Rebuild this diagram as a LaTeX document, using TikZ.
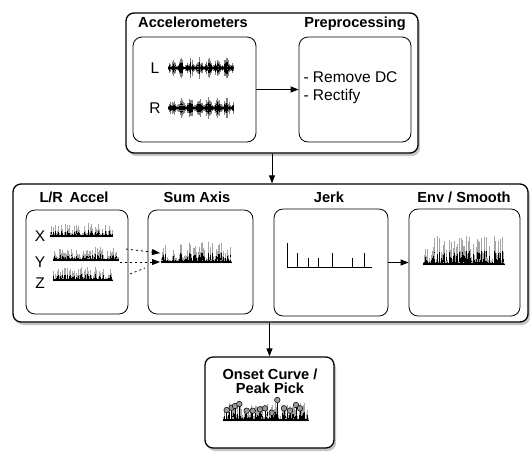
\documentclass[tikz,border=0pt]{standalone}
\usepackage{fontspec}
\setmainfont{Liberation Sans}
\usetikzlibrary{arrows.meta,shadows,calc}

% signal sketches (x0, y0, width[, height])
\newcommand{\accwave}[3]{%
  \foreach \k in {0,0.5,...,#3}{
    \pgfmathsetmacro\h{1.2+10*rnd*(0.15+0.85*pow(abs(sin(\k*20)),2))}
    \draw[wave,black!50] (#1+\k,#2-\h) -- (#1+\k,#2+\h);
    \draw[wave] (#1+\k,#2-0.55*\h) -- (#1+\k,#2+0.55*\h);
  }
  \draw[line width=2.2pt] (#1,#2) -- (#1+#3,#2);
}
\newcommand{\spkwave}[4]{%
  \foreach \k in {0,0.5,...,#3}{
    \pgfmathsetmacro\h{2+#4*pow(rnd,2.5)}
    \draw[wave,black!35] (#1+\k,#2) -- ++(0,-\h);
    \draw[wave] (#1+\k,#2) -- ++(0,-0.5*\h);
  }
  \draw[line width=2.6pt] (#1,#2-1.2) -- (#1+#3,#2-1.2);
}

\begin{document}
\begin{tikzpicture}[x=1pt,y=-1pt,
  outer/.style={draw,line width=1.3pt,rounded corners=8pt,fill=white,
                drop shadow={shadow xshift=2pt,shadow yshift=-3pt,opacity=0.45}},
  panel/.style={draw,line width=0.8pt,rounded corners=9pt,fill=white},
  ttl/.style={font=\bfseries\fontsize{14.6}{16}\selectfont,anchor=base},
  lbl/.style={font=\fontsize{15.5}{18}\selectfont},
  wave/.style={line width=0.4pt},
  arr/.style={-{Triangle[length=8pt,width=6pt]},line width=0.8pt},
  dasharr/.style={-{Triangle[length=8pt,width=6pt]},line width=0.8pt,
                  dash pattern=on 2pt off 3pt}]
  \useasboundingbox (0,0) rectangle (532,451);
  \pgfmathsetseed{17}

  % top stage
  \node[outer,minimum width=292,minimum height=140] (top) at (272,83) {};
  \node[panel,minimum width=123,minimum height=105] (acc) at (194.5,89.5) {};
  \node[panel,minimum width=112,minimum height=105] (pre) at (355,89.5) {};
  \node[ttl] (accT) at (193,27) {Accelerometers};
  \node[ttl] (preT) at (355,27) {Preprocessing};
  \node[lbl] (accL) at (155,68) {L};
  \node[lbl] (accR) at (155,108) {R};
  \accwave{168}{68}{65}
  \accwave{168}{108}{65}
  \node[lbl,align=left,anchor=west] (preTxt) at (300,88)
    {- Remove DC\\- Rectify};
  \draw[arr] (acc) -- (pre);

  % middle stage
  \node[outer,minimum width=515,minimum height=138] (mid) at (270.5,253) {};
  \node[panel,minimum width=102,minimum height=104] (lr) at (77,262) {};
  \node[panel,minimum width=105,minimum height=104] (sum) at (200.5,262) {};
  \node[panel,minimum width=114,minimum height=107] (jerk) at (331,262.5) {};
  \node[panel,minimum width=111,minimum height=107] (env) at (464.5,262.5) {};
  \node[ttl] (lrT) at (74,202) {L/R\, Accel};
  \node[ttl] (sumT) at (197,202) {Sum Axis};
  \node[ttl] (jerkT) at (329,202) {Jerk};
  \node[ttl] (envT) at (464,202) {Env / Smooth};
  \node[lbl] (lrX) at (40,236) {X};
  \node[lbl] (lrY) at (40,262) {Y};
  \node[lbl] (lrZ) at (40,283) {Z};
  \spkwave{50}{237}{62}{12}
  \spkwave{53}{261}{65}{12}
  \spkwave{53}{281}{59}{12}
  \spkwave{161}{263}{70}{20}
  \spkwave{423}{265}{81}{27}
  \draw[line width=0.8pt] (287,267) -- (372,267);
  \foreach \x/\h in {287/24,297/14,308/9,318/9,332/14,352/9,364/14}
    \draw[line width=0.8pt] (\x,267) -- ++(0,-\h);
  \coordinate (xo) at (126,249);
  \coordinate (yo) at (120,262);
  \coordinate (zo) at (130,274);
  \coordinate (sin1) at (160,253);
  \coordinate (sin2) at (160,262);
  \draw[dasharr] (xo) -- (sin1);
  \draw[dasharr] (yo) -- (sin2);
  \draw[dasharr,-] (zo) -- ($(zo)!0.5!(sin2)$);
  \draw[arr] (jerk) -- (env);

  % onset stage
  \node[outer,minimum width=129,minimum height=91] (onset) at (269.5,402.5) {};
  \node[ttl,align=center,anchor=center] (onsetT) at (270,381)
    {Onset Curve /\\[-2pt]Peak Pick};
  \spkwave{223}{421}{85}{16}
  \foreach \x/\y in {226.7/410,231.7/407.7,235/406,239.3/404,246.7/410.7,
                     252.7/410.7,260/409.3,265/408.3,271.7/412.7,277.3/400,
                     284/408.3,290/410.7,296/405,300/408.3}{
    \draw[line width=0.6pt] (\x,\y) -- (\x,420);
    \draw[fill=black!40,line width=0.5pt] (\x,\y) circle (2.8);
  }

  % stage links
  \draw[arr] (top.south) -- (top.south |- mid.north);
  \draw[arr] (mid.south -| onset.north) -- (onset.north);
\end{tikzpicture}
\end{document}
